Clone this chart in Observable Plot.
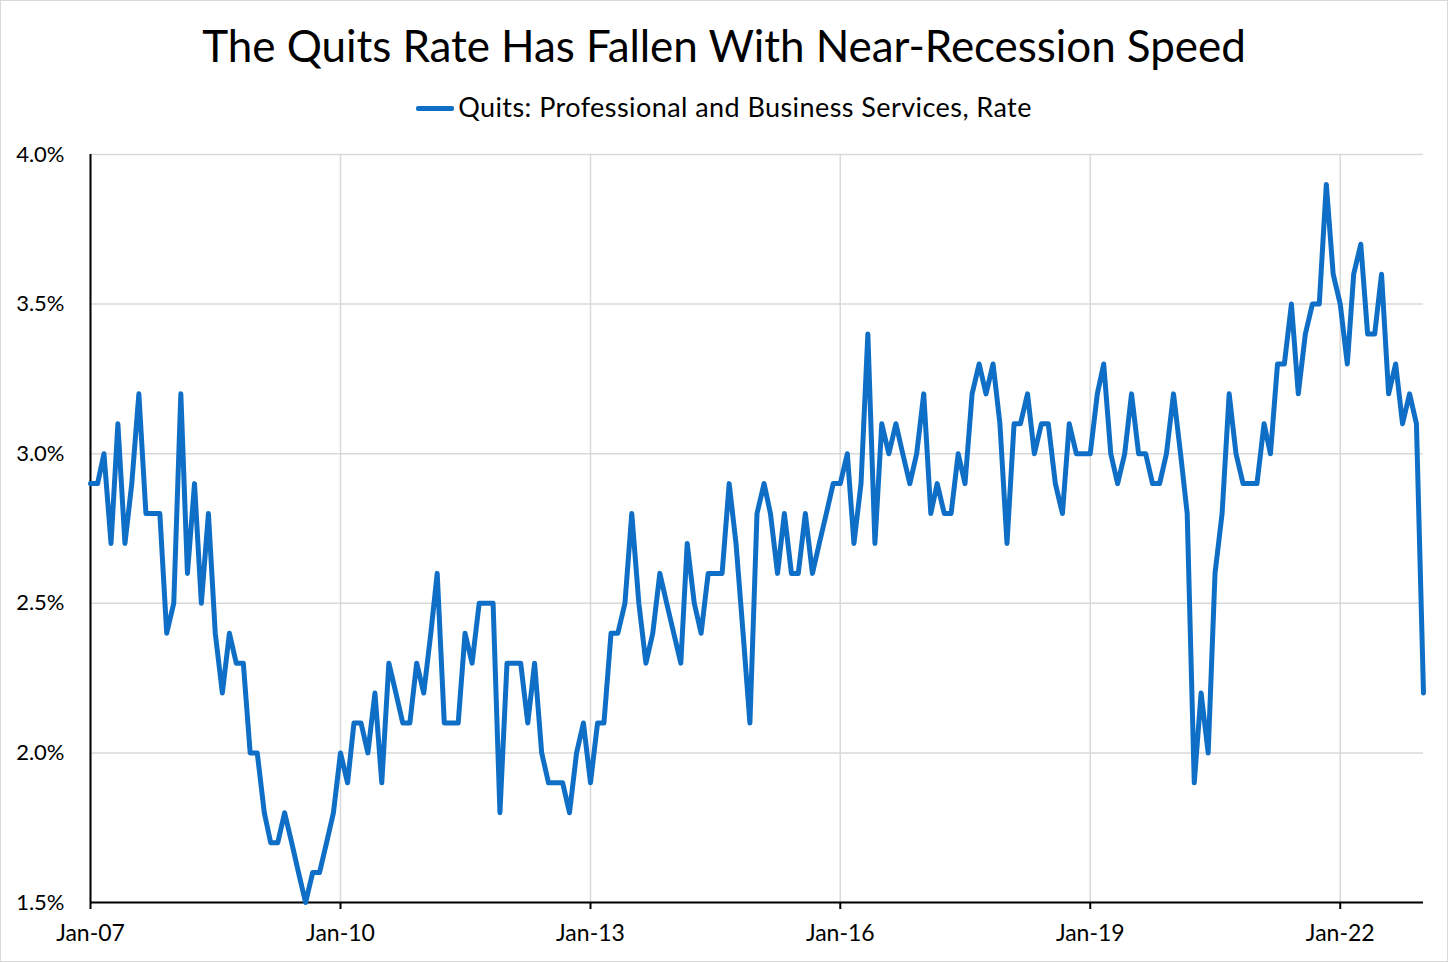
<!DOCTYPE html>
<html><head><meta charset="utf-8">
<script src="https://cdn.jsdelivr.net/npm/d3@7"></script>
<script src="https://cdn.jsdelivr.net/npm/@observablehq/plot@0.6"></script>
<style>
html,body{margin:0;padding:0;background:#fff;}
#frame{position:relative;width:1448px;height:962px;font-family:Lato,sans-serif;overflow:hidden;background:#fff;}
#border{position:absolute;left:0;top:0;width:1448px;height:962px;box-sizing:border-box;border:1.5px solid #d9d9d9;pointer-events:none;}
#title{position:absolute;left:0;right:0;top:18px;text-align:center;font-size:44px;line-height:54px;color:#000;white-space:nowrap;letter-spacing:-0.06px;}
#legend{position:absolute;left:0;right:0;top:91px;text-align:center;font-size:27px;line-height:32px;color:#000;white-space:nowrap;letter-spacing:0.43px;}
#legend .sw{display:inline-block;width:38px;height:5px;background:#0F6FC6;vertical-align:middle;margin-right:4px;position:relative;top:-2px;border-radius:2px;}
#chart{position:absolute;left:0;top:130px;}
</style></head>
<body>
<div id="frame">
  <div id="title">The Quits Rate Has Fallen With Near-Recession Speed</div>
  <div id="legend"><span class="sw"></span>Quits: Professional and Business Services, Rate</div>
  <div id="chart"></div>
  <div id="border"></div>
</div>
<script>
// Monthly quits rate (%), January through December of each year
const rate2007 = [2.9,2.9,3.0,2.7,3.1,2.7,2.9,3.2,2.8,2.8,2.8,2.4];
const rate2008 = [2.5,3.2,2.6,2.9,2.5,2.8,2.4,2.2,2.4,2.3,2.3,2.0];
const rate2009 = [2.0,1.8,1.7,1.7,1.8,1.7,1.6,1.5,1.6,1.6,1.7,1.8];
const rate2010 = [2.0,1.9,2.1,2.1,2.0,2.2,1.9,2.3,2.2,2.1,2.1,2.3];
const rate2011 = [2.2,2.4,2.6,2.1,2.1,2.1,2.4,2.3,2.5,2.5,2.5,1.8];
const rate2012 = [2.3,2.3,2.3,2.1,2.3,2.0,1.9,1.9,1.9,1.8,2.0,2.1];
const rate2013 = [1.9,2.1,2.1,2.4,2.4,2.5,2.8,2.5,2.3,2.4,2.6,2.5];
const rate2014 = [2.4,2.3,2.7,2.5,2.4,2.6,2.6,2.6,2.9,2.7,2.4,2.1];
const rate2015 = [2.8,2.9,2.8,2.6,2.8,2.6,2.6,2.8,2.6,2.7,2.8,2.9];
const rate2016 = [2.9,3.0,2.7,2.9,3.4,2.7,3.1,3.0,3.1,3.0,2.9,3.0];
const rate2017 = [3.2,2.8,2.9,2.8,2.8,3.0,2.9,3.2,3.3,3.2,3.3,3.1];
const rate2018 = [2.7,3.1,3.1,3.2,3.0,3.1,3.1,2.9,2.8,3.1,3.0,3.0];
const rate2019 = [3.0,3.2,3.3,3.0,2.9,3.0,3.2,3.0,3.0,2.9,2.9,3.0];
const rate2020 = [3.2,3.0,2.8,1.9,2.2,2.0,2.6,2.8,3.2,3.0,2.9,2.9];
const rate2021 = [2.9,3.1,3.0,3.3,3.3,3.5,3.2,3.4,3.5,3.5,3.9,3.6];
const rate2022 = [3.5,3.3,3.6,3.7,3.4,3.4,3.6,3.2,3.3,3.1,3.2,3.1];
const rate2023 = [2.2];

const dataYears = [2007,2008,2009,2010,2011,2012,2013,2014,2015,2016,2017,2018,2019,2020,2021,2022,2023];
const yearRates = [rate2007,rate2008,rate2009,rate2010,rate2011,rate2012,rate2013,rate2014,rate2015,rate2016,rate2017,rate2018,rate2019,rate2020,rate2021,rate2022,rate2023];

const xTickYears = [2007,2010,2013,2016,2019,2022];
const xTickLabels = ["Jan-07","Jan-10","Jan-13","Jan-16","Jan-19","Jan-22"];
const yTicks = [1.5,2.0,2.5,3.0,3.5,4.0];
const yTickLabels = ["1.5%","2.0%","2.5%","3.0%","3.5%","4.0%"];

const data = [];
dataYears.forEach((yr, k) => {
  yearRates[k].forEach((v, m) => data.push({date: new Date(Date.UTC(yr, m, 1)), rate: v}));
});
const xTickDates = xTickYears.map(y => new Date(Date.UTC(y, 0, 1)));
const xStart = new Date(Date.UTC(2007, 0, 1));
const xEnd = new Date(Date.UTC(2023, 0, 1));

const chart = Plot.plot({
  width: 1448,
  height: 832,
  marginTop: 24,
  marginBottom: 60,
  marginLeft: 90,
  marginRight: 25,
  style: {fontFamily: "Lato, sans-serif", fontSize: "22px", color: "#000", background: "transparent", overflow: "visible"},
  x: {type: "utc", domain: [xStart, xEnd]},
  y: {domain: [1.5, 4.0]},
  marks: [
    Plot.gridY(yTicks, {stroke: "#d9d9d9", strokeOpacity: 1, strokeWidth: 1.5}),
    Plot.gridX(xTickDates, {stroke: "#d9d9d9", strokeOpacity: 1, strokeWidth: 1.5}),
    Plot.axisY(yTicks, {tickSize: 0, tickPadding: 26, tickFormat: d => yTickLabels[yTicks.indexOf(d)], label: null, fontSize: 22}),
    Plot.axisX(xTickDates, {tickSize: 7, tickPadding: 15, tickFormat: d => xTickLabels[xTickYears.indexOf(d.getUTCFullYear())], label: null, fontSize: 23, stroke: "#000", strokeWidth: 2}),
    Plot.ruleY([1.5], {stroke: "#000", strokeWidth: 2}),
    Plot.ruleX([xStart], {stroke: "#000", strokeWidth: 2}),
    Plot.line(data, {x: "date", y: "rate", stroke: "#0F6FC6", strokeWidth: 5, strokeLinejoin: "round", strokeLinecap: "round"})
  ]
});
document.getElementById("chart").appendChild(chart);
</script>
</body></html>
